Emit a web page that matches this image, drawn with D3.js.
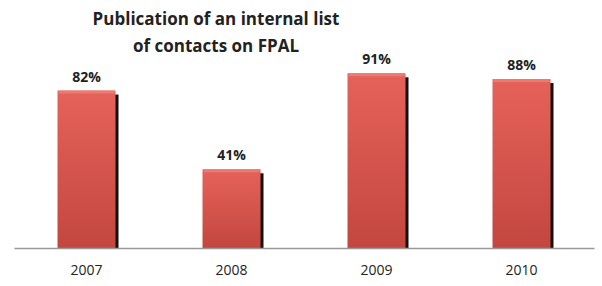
<!DOCTYPE html>
<meta charset="utf-8">
<style>
  body { margin: 0; background: #fff; }
  text { font-family: "Open Sans", sans-serif; fill: #222; }
  .title { font-weight: bold; font-size: 17px; }
  .val { font-weight: bold; font-size: 14px; }
  .axis text { font-size: 14px; }
</style>
<body></body>
<script src="https://d3js.org/d3.v7.min.js"></script>
<script>
  var years = ["2007", "2008", "2009", "2010"];
  var values = [82, 41, 91, 88];
  var titleLines = ["Publication of an internal list", "of contacts on FPAL"];

  var width = 602, height = 286;
  var x0 = 14, x1 = 594, base = 248, top100 = 56;

  var svg = d3.select("body").append("svg")
    .attr("width", width)
    .attr("height", height);

  var defs = svg.append("defs");
  var grad = defs.append("linearGradient")
    .attr("id", "barGrad")
    .attr("x1", 0).attr("y1", 0).attr("x2", 0).attr("y2", 1);
  grad.append("stop").attr("offset", "0%").attr("stop-color", "#e5625a");
  grad.append("stop").attr("offset", "100%").attr("stop-color", "#c3473f");

  var x = d3.scaleBand()
    .domain(years)
    .range([x0, x1])
    .paddingInner(0.6)
    .paddingOuter(0.3);

  var y = d3.scaleLinear()
    .domain([0, 100])
    .range([base, top100]);

  // title
  svg.append("text")
    .attr("class", "title")
    .attr("text-anchor", "middle")
    .selectAll("tspan")
    .data(titleLines)
    .enter().append("tspan")
    .attr("x", 216)
    .attr("y", function(d, i) { return 25 + i * 27; })
    .text(function(d) { return d; });

  var data = years.map(function(d, i) { return { year: d, value: values[i] }; });

  var bars = svg.append("g").selectAll("g")
    .data(data)
    .enter().append("g");

  // dark shadow on right side
  bars.append("rect")
    .attr("x", function(d) { return x(d.year) + x.bandwidth() - 1; })
    .attr("y", function(d) { return y(d.value) + 4; })
    .attr("width", 4)
    .attr("height", function(d) { return base - y(d.value) - 4; })
    .attr("fill", "#111");

  bars.append("rect")
    .attr("x", function(d) { return x(d.year); })
    .attr("y", function(d) { return y(d.value); })
    .attr("width", x.bandwidth())
    .attr("height", function(d) { return base - y(d.value); })
    .attr("fill", "url(#barGrad)");

  // lighter top bevel
  bars.append("rect")
    .attr("x", function(d) { return x(d.year) + 1; })
    .attr("y", function(d) { return y(d.value); })
    .attr("width", x.bandwidth() - 2)
    .attr("height", 3)
    .attr("fill", "#ec7a70");

  bars.append("text")
    .attr("class", "val")
    .attr("text-anchor", "middle")
    .attr("x", function(d) { return x(d.year) + x.bandwidth() / 2; })
    .attr("y", function(d) { return y(d.value) - 9; })
    .text(function(d) { return d.value + "%"; });

  var axis = d3.axisBottom(x).tickSize(0).tickPadding(17);
  var ax = svg.append("g")
    .attr("class", "axis")
    .attr("transform", "translate(0," + base + ")")
    .call(axis);
  ax.select(".domain").attr("stroke", "#999").attr("stroke-width", 1.5);
  ax.selectAll("text").attr("fill", "#222").attr("font-family", "Open Sans, sans-serif");
</script>
